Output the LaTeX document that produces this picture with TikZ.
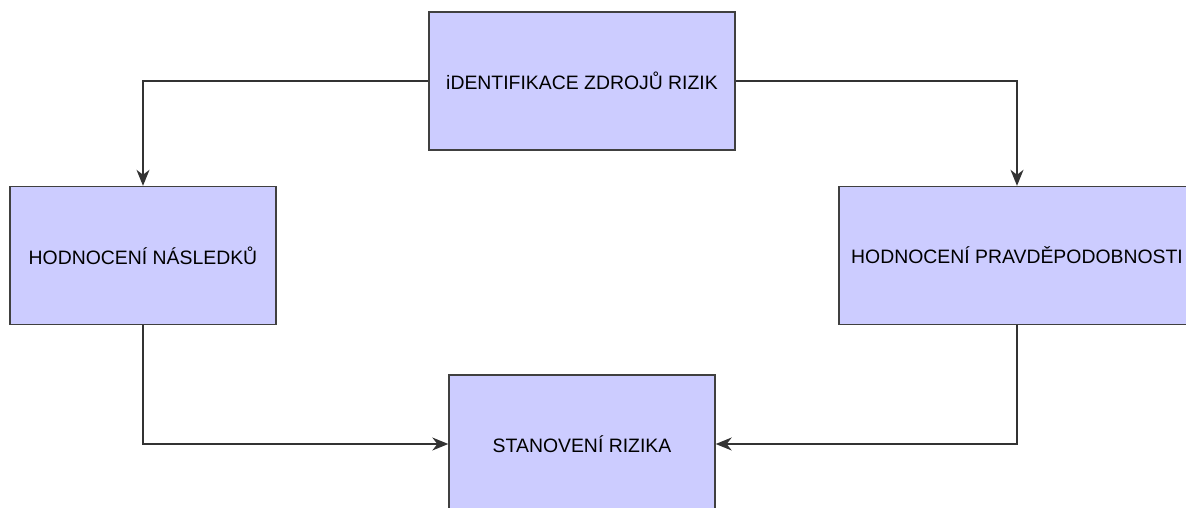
\documentclass[tikz,border=0pt]{standalone}
\usepackage{fontspec}
\setmainfont{Liberation Sans}
\usetikzlibrary{arrows.meta}

\begin{document}
\begin{tikzpicture}[>={Stealth[length=16pt,width=13pt,inset=5pt]}, x=1pt, y=-1pt,
  blok/.style={draw=black!75, line width=1.4pt, fill={rgb,255:red,204;green,204;blue,255}, rectangle, minimum height=138pt, inner sep=0pt, font=\fontsize{19.4}{23}\selectfont}]
\useasboundingbox (0,0) rectangle (1186,508);
\clip (0,0) rectangle (1186,508);
\node[blok, minimum width=306pt] (ident) at (582,81) {iDENTIFIKACE ZDROJŮ RIZIK};
\node[blok, minimum width=266pt] (nasl) at (143,255.5) {HODNOCENÍ NÁSLEDKŮ};
\node[blok, minimum width=356pt] (pravd) at (1017,255.5) {HODNOCENÍ PRAVDĚPODOBNOSTI};
\node[blok, minimum width=266pt] (stan) at (582,444) {STANOVENÍ RIZIKA};
\draw[->, black!80, line width=1.3pt] (ident.west) -| (nasl.north);
\draw[->, black!80, line width=1.3pt] (ident.east) -| (pravd.north);
\draw[->, black!80, line width=1.3pt] (nasl.south) |- (stan.west);
\draw[->, black!80, line width=1.3pt] (pravd.south) |- (stan.east);
\end{tikzpicture}
\end{document}
